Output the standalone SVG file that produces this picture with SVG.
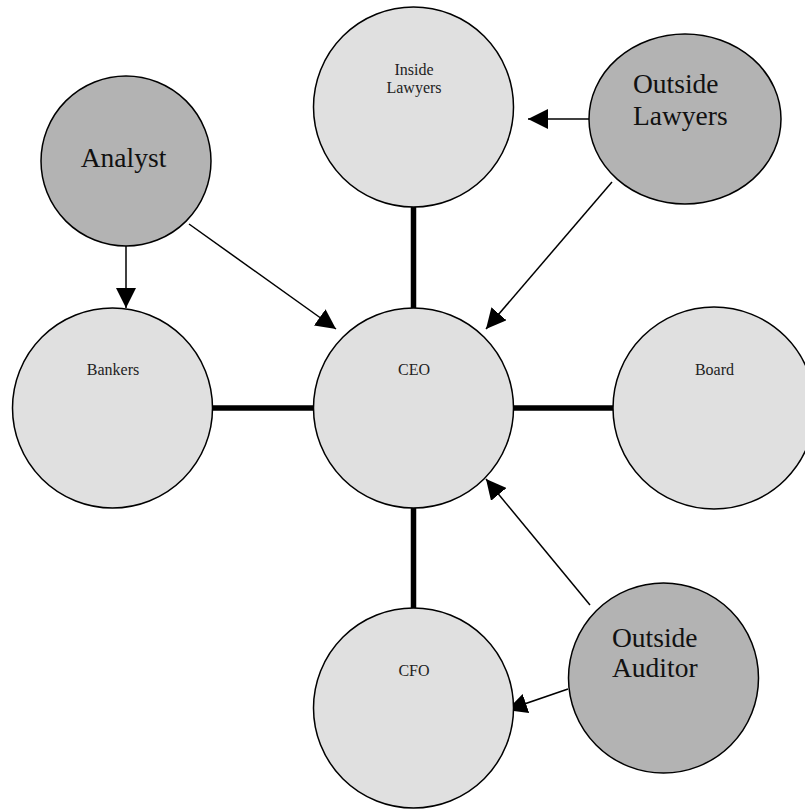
<svg xmlns="http://www.w3.org/2000/svg" width="805" height="810" viewBox="0 0 805 810">
<style>
.light{fill:#e0e0e0;stroke:#000;stroke-width:1.5}
.dark{fill:#b3b3b3;stroke:#000;stroke-width:1.5}
.thick{stroke:#000;stroke-width:5.5;fill:none}
.arrow{stroke:#000;stroke-width:1.5;fill:none;marker-end:url(#ah)}
.s{font-family:"Liberation Serif","Times New Roman",serif;font-size:16px;fill:#222;text-anchor:middle}
.b{font-family:"Liberation Serif","Times New Roman",serif;font-size:27.5px;fill:#111}
</style>
<defs>
<marker id="ah" markerUnits="userSpaceOnUse" markerWidth="21" markerHeight="20" refX="20" refY="10" orient="auto">
<path d="M0,0 L20,10 L0,20 z" fill="#000"/>
</marker>
</defs>
<rect width="805" height="810" fill="#fff"/>
<g id="connectors">
<line class="thick" x1="413.5" y1="207" x2="413.5" y2="308"/>
<line class="thick" x1="213" y1="408" x2="313" y2="408"/>
<line class="thick" x1="514" y1="408" x2="614" y2="408"/>
<line class="thick" x1="413.5" y1="508" x2="413.5" y2="608"/>
<line class="arrow" x1="589" y1="119" x2="528" y2="119"/>
<line class="arrow" x1="612" y1="182" x2="486" y2="329"/>
<line class="arrow" x1="126" y1="246" x2="126" y2="308"/>
<line class="arrow" x1="189" y1="224" x2="336" y2="329"/>
<line class="arrow" x1="590" y1="605" x2="486" y2="479"/>
<line class="arrow" x1="568" y1="689" x2="507" y2="710"/>
</g>
<g id="inside-lawyers">
<circle class="light" cx="413.5" cy="107" r="100"/>
<text class="s" x="414" y="75">Inside</text>
<text class="s" x="414" y="93">Lawyers</text>
</g>
<g id="outside-lawyers">
<ellipse class="dark" cx="685" cy="119" rx="96" ry="85"/>
<text class="b" x="633" y="93">Outside</text>
<text class="b" x="633" y="125">Lawyers</text>
</g>
<g id="analyst">
<circle class="dark" cx="126" cy="161" r="85"/>
<text class="b" x="123.5" y="167" text-anchor="middle">Analyst</text>
</g>
<g id="bankers">
<circle class="light" cx="112.5" cy="408" r="100"/>
<text class="s" x="113" y="375">Bankers</text>
</g>
<g id="ceo">
<circle class="light" cx="413.5" cy="408" r="100"/>
<text class="s" x="414" y="375">CEO</text>
</g>
<g id="board">
<circle class="light" cx="714" cy="408" r="101"/>
<text class="s" x="714.5" y="375">Board</text>
</g>
<g id="cfo">
<circle class="light" cx="413.5" cy="708" r="100"/>
<text class="s" x="414" y="676">CFO</text>
</g>
<g id="outside-auditor">
<circle class="dark" cx="663.5" cy="678" r="95"/>
<text class="b" x="612" y="647">Outside</text>
<text class="b" x="612" y="677">Auditor</text>
</g>
</svg>
